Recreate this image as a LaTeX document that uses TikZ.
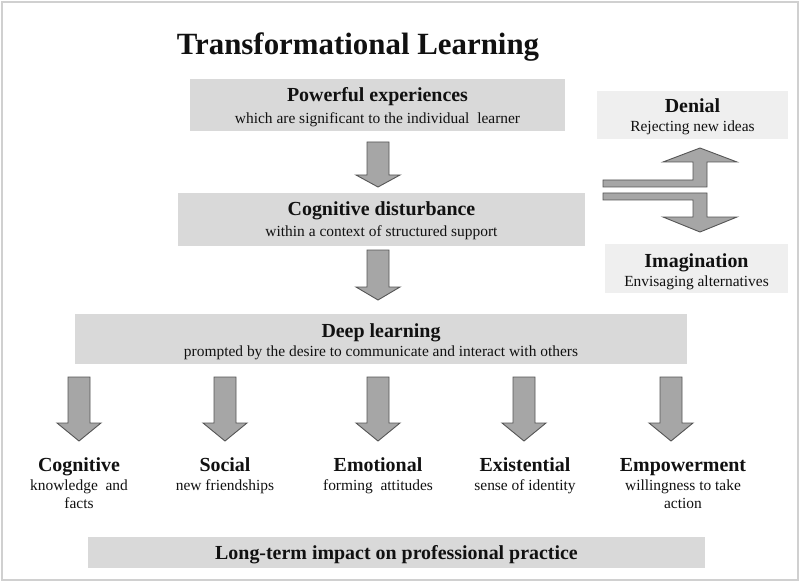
\documentclass[tikz,border=0pt]{standalone}
\usepackage{fontspec}
\setmainfont{Liberation Serif}
\definecolor{boxgray}{HTML}{D9D9D9}
\definecolor{lightbox}{HTML}{EFEFEF}
\definecolor{arrfill}{HTML}{A6A6A6}
\definecolor{arrline}{HTML}{555555}
\definecolor{framegray}{HTML}{D0D0D0}
\definecolor{txt}{HTML}{111111}
\newcommand{\blkarrow}[4]{%
  \draw[arr] (#1-11,#2) -- (#1+11,#2) -- (#1+11,#3) -- (#1+22,#3) -- (#1,#4) -- (#1-22,#3) -- (#1-11,#3) -- cycle;}
\tikzset{
  arr/.style={fill=arrfill, draw=arrline, line width=0.9bp, line join=miter},
  graybox/.style={fill=boxgray, draw=none},
  litebox/.style={fill=lightbox, draw=none},
  head/.style={font=\fontsize{20}{22}\selectfont\bfseries, text=txt, inner sep=0pt, anchor=base},
  sub/.style={font=\fontsize{15.5}{18}\selectfont, text=txt, inner sep=0pt, anchor=base},
}
\begin{document}
\begin{tikzpicture}[x=1bp,y=-1bp]
\useasboundingbox (0,0) rectangle (800,582);
\fill[white] (0,0) rectangle (800,582);
\draw[framegray, line width=2bp] (2,2) rectangle (798,580);

% title
\node[font=\fontsize{31}{34}\selectfont\bfseries, text=txt, inner sep=0pt, anchor=base] (title) at (358,55) {Transformational Learning};

% main boxes
\fill[graybox] (190,79) rectangle (565,131);
\node[head] (pe) at (377.5,102) {Powerful experiences};
\node[sub] (pes) at (377.5,124) {which are significant to the individual\ \ learner};

\blkarrow{378}{142}{175}{187}

\fill[graybox] (178,193) rectangle (585,246);
\node[head] (cd) at (381.5,216) {Cognitive disturbance};
\node[sub] (cds) at (381.5,237) {within a context of structured support};

\blkarrow{378}{250}{287}{300}

\fill[graybox] (75,314) rectangle (687,364);
\node[head] (dl) at (381,337) {Deep learning};
\node[sub] (dls) at (381,356) {prompted by the desire to communicate and interact with others};

% right side
\fill[litebox] (597,91) rectangle (788,139);
\node[head] (den) at (692.5,113) {Denial};
\node[sub] (dens) at (692.5,132) {Rejecting new ideas};

\fill[litebox] (605,244) rectangle (788,293);
\node[head] (ima) at (696.5,267) {Imagination};
\node[sub] (imas) at (696.5,286) {Envisaging alternatives};

\draw[arr] (603,180) -- (693,180) -- (693,162) -- (663,162) -- (700,148) -- (737,162) -- (707,162) -- (707,187) -- (603,187) -- cycle;
\draw[arr] (603,193) -- (707,193) -- (707,217) -- (737,217) -- (700,232) -- (663,217) -- (693,217) -- (693,200) -- (603,200) -- cycle;

% bottom arrows
\blkarrow{79}{377}{423}{441}
\blkarrow{225}{377}{423}{441}
\blkarrow{378}{377}{423}{441}
\blkarrow{524}{377}{423}{441}
\blkarrow{671}{377}{423}{441}

% bottom labels
\node[head] (cog) at (79,471) {Cognitive};
\node[sub] (cogs) at (79,490) {knowledge\ \ and};
\node[sub] (cogs2) at (79,508) {facts};
\node[head] (soc) at (225,471) {Social};
\node[sub] (socs) at (225,490) {new friendships};
\node[head] (emo) at (378,471) {Emotional};
\node[sub] (emos) at (378,490) {forming\ \ attitudes};
\node[head] (exi) at (525,471) {Existential};
\node[sub] (exis) at (525,490) {sense of identity};
\node[head] (emp) at (683,471) {Empowerment};
\node[sub] (emps) at (683,490) {willingness to take};
\node[sub] (emps2) at (683,508) {action};

\fill[graybox] (88,537) rectangle (705,568);
\node[head] (lt) at (396.5,559) {Long-term impact on professional practice};
\end{tikzpicture}
\end{document}
